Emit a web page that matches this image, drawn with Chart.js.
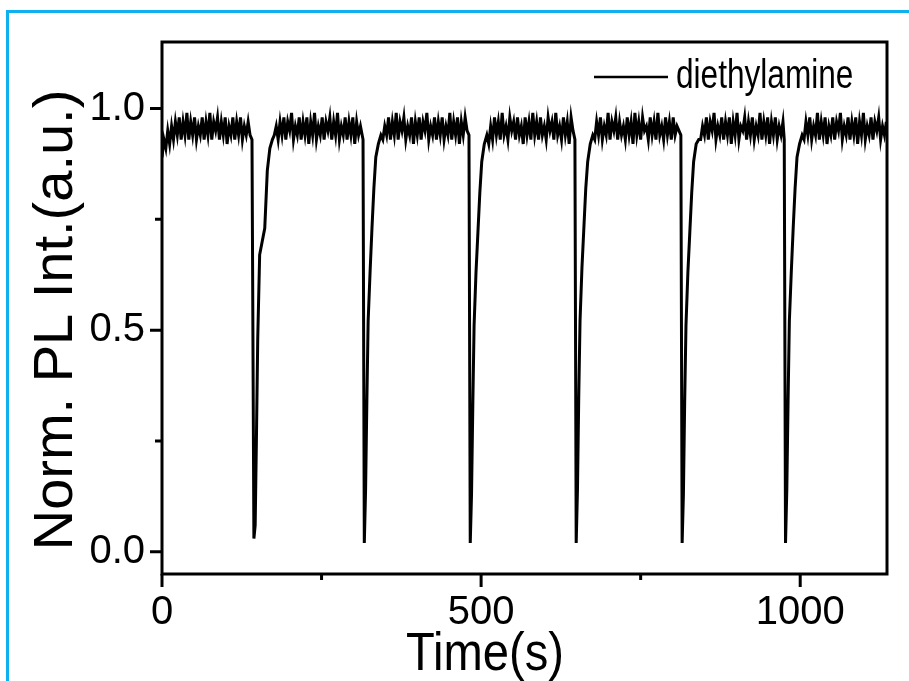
<!DOCTYPE html>
<html>
<head>
<meta charset="utf-8">
<title>Norm. PL Int. vs Time</title>
<script src="https://cdn.jsdelivr.net/npm/chart.js@4.4.1/dist/chart.umd.min.js"></script>
<style>
  html, body { margin: 0; padding: 0; background: #fff; }
  #plChart { display: block; }
</style>
</head>
<body>
<canvas id="plChart" width="909" height="681"></canvas>
<script>
// Readings taken off the plot: plateau noise every 3 s, dips sampled by hand
const sampleStep = 3;
const plateauStarts = [0, 176, 346, 512, 678, 844, 1006];
const plateau1 = [0.89, 0.93, 0.91, 0.95, 0.92, 0.96, 0.93, 0.97, 0.94, 0.98, 0.93, 0.97, 0.94, 0.99, 0.93, 0.97,
    0.94, 0.98, 0.93, 0.96, 0.94, 0.98, 0.93, 0.97, 0.94, 0.99, 0.93, 0.97, 0.95, 0.98, 0.93, 0.97, 0.94, 0.98,
    0.92, 0.96, 0.94, 0.98, 0.93, 0.97, 0.94, 0.98, 0.93, 0.96, 0.94, 0.97, 0.94];
const plateau2 = [0.94, 0.96, 0.93, 0.97, 0.94, 0.98, 0.93, 0.97, 0.95, 0.99, 0.93, 0.96, 0.94, 0.98, 0.93, 0.97,
    0.94, 0.98, 0.92, 0.97, 0.94, 0.99, 0.93, 0.96, 0.94, 0.98, 0.93, 0.97, 0.95, 0.98, 0.93, 0.97, 0.94, 0.99,
    0.93, 0.96, 0.94, 0.98, 0.93, 0.97, 0.94, 0.98, 0.92, 0.97, 0.94, 0.96];
const plateau3 = [0.93, 0.96, 0.94, 0.98, 0.93, 0.97, 0.94, 0.99, 0.93, 0.97, 0.95, 0.98, 0.93, 0.96, 0.94, 0.98,
    0.92, 0.97, 0.94, 0.98, 0.93, 0.97, 0.95, 0.99, 0.93, 0.96, 0.94, 0.98, 0.93, 0.97, 0.94, 0.98, 0.93, 0.96,
    0.94, 0.99, 0.93, 0.97, 0.94, 0.98, 0.92, 0.97, 0.94, 0.98, 0.95];
const plateau4 = [0.92, 0.96, 0.93, 0.98, 0.94, 0.97, 0.93, 0.99, 0.94, 0.96, 0.93, 0.98, 0.95, 0.97, 0.93, 0.98,
    0.94, 0.96, 0.92, 0.98, 0.94, 0.97, 0.93, 0.99, 0.94, 0.97, 0.93, 0.98, 0.94, 0.96, 0.93, 0.98, 0.95, 0.97,
    0.93, 0.99, 0.94, 0.96, 0.93, 0.98, 0.94, 0.97, 0.92, 0.98, 0.95];
const plateau5 = [0.93, 0.97, 0.94, 0.98, 0.93, 0.96, 0.94, 0.99, 0.93, 0.97, 0.95, 0.98, 0.93, 0.97, 0.94, 0.96,
    0.93, 0.98, 0.94, 0.97, 0.92, 0.99, 0.94, 0.97, 0.93, 0.98, 0.95, 0.96, 0.93, 0.98, 0.94, 0.97, 0.93, 0.99,
    0.94, 0.96, 0.93, 0.98, 0.94, 0.97, 0.93, 0.98, 0.94, 0.96, 0.95];
const plateau6 = [0.93, 0.96, 0.94, 0.98, 0.93, 0.97, 0.95, 0.99, 0.93, 0.96, 0.94, 0.98, 0.93, 0.97, 0.94, 0.98,
    0.92, 0.97, 0.94, 0.99, 0.93, 0.96, 0.95, 0.98, 0.93, 0.97, 0.94, 0.98, 0.93, 0.96, 0.94, 0.99, 0.93, 0.97,
    0.94, 0.98, 0.92, 0.97, 0.94, 0.98, 0.93, 0.96, 0.94, 0.97];
const plateau7 = [0.93, 0.97, 0.94, 0.98, 0.93, 0.96, 0.94, 0.99, 0.93, 0.97, 0.94, 0.98, 0.92, 0.96, 0.94, 0.98,
    0.93, 0.97, 0.95, 0.99, 0.93, 0.96, 0.94, 0.98, 0.93, 0.97, 0.94, 0.98, 0.92, 0.97, 0.94, 0.99, 0.93, 0.96,
    0.94, 0.98, 0.93, 0.97, 0.95, 0.98, 0.93, 0.96, 0.94, 0.97];
const plateaus = [plateau1, plateau2, plateau3, plateau4, plateau5, plateau6, plateau7];

// gas pulses: sharp quench then recovery
const dipTimes = [
    [141, 144, 146, 148, 150, 153, 157, 161, 165, 169, 173],
    [315, 317, 319, 321, 323, 326, 329, 332, 335, 339, 343],
    [481, 483, 485, 487, 489, 492, 495, 498, 501, 505, 509],
    [647, 649, 651, 653, 655, 658, 661, 664, 667, 671, 675],
    [813, 815, 817, 819, 821, 824, 827, 830, 833, 837, 841],
    [975, 977, 979, 981, 983, 986, 989, 992, 995, 999, 1003]
];
const dipValues = [
    [0.93, 0.03, 0.06, 0.26, 0.48, 0.67, 0.70, 0.73, 0.86, 0.91, 0.93],
    [0.93, 0.02, 0.14, 0.34, 0.52, 0.63, 0.73, 0.82, 0.89, 0.92, 0.94],
    [0.94, 0.02, 0.13, 0.33, 0.51, 0.63, 0.72, 0.81, 0.88, 0.92, 0.94],
    [0.93, 0.02, 0.14, 0.35, 0.52, 0.64, 0.73, 0.82, 0.88, 0.92, 0.94],
    [0.94, 0.02, 0.13, 0.34, 0.51, 0.63, 0.72, 0.81, 0.88, 0.92, 0.93],
    [0.93, 0.02, 0.14, 0.34, 0.52, 0.63, 0.73, 0.82, 0.89, 0.92, 0.94]
];

const seriesLabel = 'diethylamine';
const xTitle = 'Time(s)';
const yTitle = 'Norm. PL Int.(a.u.)';

// join plateaus and dips in time order
const points = [];
plateaus.forEach((vals, i) => {
    vals.forEach((v, k) => points.push({ x: plateauStarts[i] + k * sampleStep, y: v }));
    if (dipTimes[i]) {
        dipTimes[i].forEach((t, k) => points.push({ x: t, y: dipValues[i][k] }));
    }
});

const FONT = "'Liberation Sans', Arial, sans-serif";
Chart.defaults.font.family = FONT;
Chart.defaults.color = '#000';

const isHalf = v => Math.abs(v * 2 - Math.round(v * 2)) < 1e-6;

// light blue outer border of the figure
const pageFrame = {
    id: 'pageFrame',
    beforeDraw(chart) {
        const ctx = chart.ctx;
        ctx.save();
        ctx.fillStyle = '#fff';
        ctx.fillRect(0, 0, chart.width, chart.height);
        ctx.strokeStyle = '#0fb0f0';
        ctx.lineWidth = 3;
        ctx.strokeRect(7.5, 11.5, chart.width + 20, chart.height + 20);
        ctx.restore();
    }
};

// closed box + outward ticks (long major, short minor)
const axisBox = {
    id: 'axisBox',
    afterDatasetsDraw(chart) {
        const { ctx, chartArea: a, scales: { x, y } } = chart;
        ctx.save();
        ctx.strokeStyle = '#000';
        ctx.lineWidth = 3;
        ctx.strokeRect(a.left, a.top, a.right - a.left, a.bottom - a.top);
        ctx.beginPath();
        x.ticks.forEach(t => {
            const px = x.getPixelForValue(t.value);
            ctx.moveTo(px, a.bottom);
            ctx.lineTo(px, a.bottom + (t.value % 500 === 0 ? 13 : 6));
        });
        y.ticks.forEach(t => {
            const py = y.getPixelForValue(t.value);
            ctx.moveTo(a.left, py);
            ctx.lineTo(a.left - (isHalf(t.value) ? 12 : 7), py);
        });
        ctx.stroke();
        ctx.restore();
    }
};

// axis titles and the in-plot legend, narrowed like the original figure
const labels = {
    id: 'labels',
    afterDraw(chart) {
        const ctx = chart.ctx;
        ctx.save();
        ctx.fillStyle = '#000';

        ctx.save();
        ctx.font = '53px ' + FONT;
        ctx.textAlign = 'center';
        ctx.translate(485, 670);
        ctx.scale(0.89, 1);
        ctx.fillText(xTitle, 0, 0);
        ctx.restore();

        ctx.save();
        ctx.font = '56px ' + FONT;
        ctx.textAlign = 'center';
        ctx.translate(72, 320);
        ctx.rotate(-Math.PI / 2);
        ctx.fillText(yTitle, 0, 0);
        ctx.restore();

        ctx.strokeStyle = '#000';
        ctx.lineWidth = 2.5;
        ctx.beginPath();
        ctx.moveTo(594, 77);
        ctx.lineTo(668, 77);
        ctx.stroke();

        ctx.save();
        ctx.font = '40px ' + FONT;
        ctx.translate(676, 88);
        ctx.scale(0.79, 1);
        ctx.fillText(seriesLabel, 0, 0);
        ctx.restore();

        ctx.restore();
    }
};

const chart = new Chart(document.getElementById('plChart'), {
    type: 'line',
    data: {
        datasets: [{
            label: seriesLabel,
            data: points,
            borderColor: '#000',
            borderWidth: 3,
            pointRadius: 0,
            tension: 0,
            fill: false
        }]
    },
    options: {
        responsive: false,
        animation: false,
        layout: { padding: { left: 0, right: 22, top: 42, bottom: 0 } },
        plugins: {
            legend: { display: false },
            tooltip: { enabled: false }
        },
        scales: {
            x: {
                type: 'linear',
                min: 0,
                max: 1136,
                grid: { display: false, drawTicks: false },
                border: { display: false },
                ticks: {
                    stepSize: 250,
                    includeBounds: false,
                    autoSkip: false,
                    maxRotation: 0,
                    padding: 15,
                    font: { size: 40 },
                    callback: v => (v % 500 === 0 ? String(v) : '')
                },
                afterFit(scale) { scale.height = 107; }
            },
            y: {
                min: -0.05,
                max: 1.15,
                grid: { display: false, drawTicks: false },
                border: { display: false },
                ticks: {
                    stepSize: 0.25,
                    includeBounds: false,
                    padding: 17,
                    font: { size: 40 },
                    callback: v => (isHalf(v) ? v.toFixed(1) : '')
                },
                afterFit(scale) { scale.width = 162; }
            }
        }
    },
    plugins: [pageFrame, axisBox, labels]
});
</script>
</body>
</html>
